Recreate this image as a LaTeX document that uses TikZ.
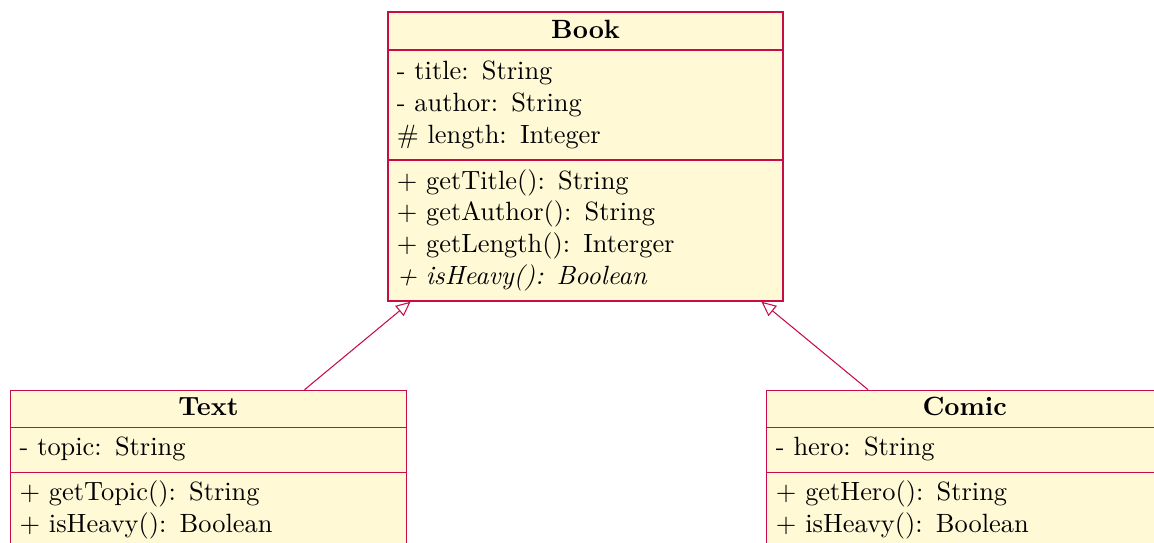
\documentclass[tikz,border=0pt]{standalone}
\usepackage{amsmath, amssymb}
\usepackage{tikz}
\usetikzlibrary{arrows.meta, positioning, shapes.multipart}

\definecolor{umlline}{RGB}{200,12,72}
\definecolor{umlfill}{RGB}{255,249,214}

\tikzset{
    umlclass/.style={rectangle split, rectangle split parts=3, draw=umlline, fill=umlfill,
        text width=143pt, inner xsep=3.4pt, inner ysep=2.3pt, line width=0.4pt},
    inherit/.style={draw=umlline, line width=0.4pt, -{Triangle[open, length=5.5pt, width=5pt]}}
}
\newcommand{\classname}[1]{\centering\rule[-1.8pt]{0pt}{9pt}\textbf{#1}\par}

\begin{document}
\begin{tikzpicture}
    \useasboundingbox (0,0) rectangle (437.1pt,-205.3pt);
    \clip (0,0) rectangle (437.1pt,-205.3pt);
    % class Book with its two subclasses
    \node[umlclass, line width=0.8pt, anchor=north] (book) at (221.8pt,-4.3pt) {\classname{Book}
        \nodepart{second}\strut - title: String\\\strut - author: String\\\strut \# length: Integer
        \nodepart{third}\strut + getTitle(): String\\\strut + getAuthor(): String\\\strut + getLength(): Interger\\\strut \textit{+ isHeavy(): Boolean}};
    \node[umlclass, below left=33.3pt and -7.55pt of book] (text) {\classname{Text}
        \nodepart{second}\strut - topic: String
        \nodepart{third}\strut + getTopic(): String\\\strut + isHeavy(): Boolean};
    \node[umlclass, below right=33.3pt and -6.8pt of book] (comic) {\classname{Comic}
        \nodepart{second}\strut - hero: String
        \nodepart{third}\strut + getHero(): String\\\strut + isHeavy(): Boolean};

    \draw[inherit] (text) -- (book);
    \draw[inherit] (comic) -- (book);
\end{tikzpicture}
\end{document}
